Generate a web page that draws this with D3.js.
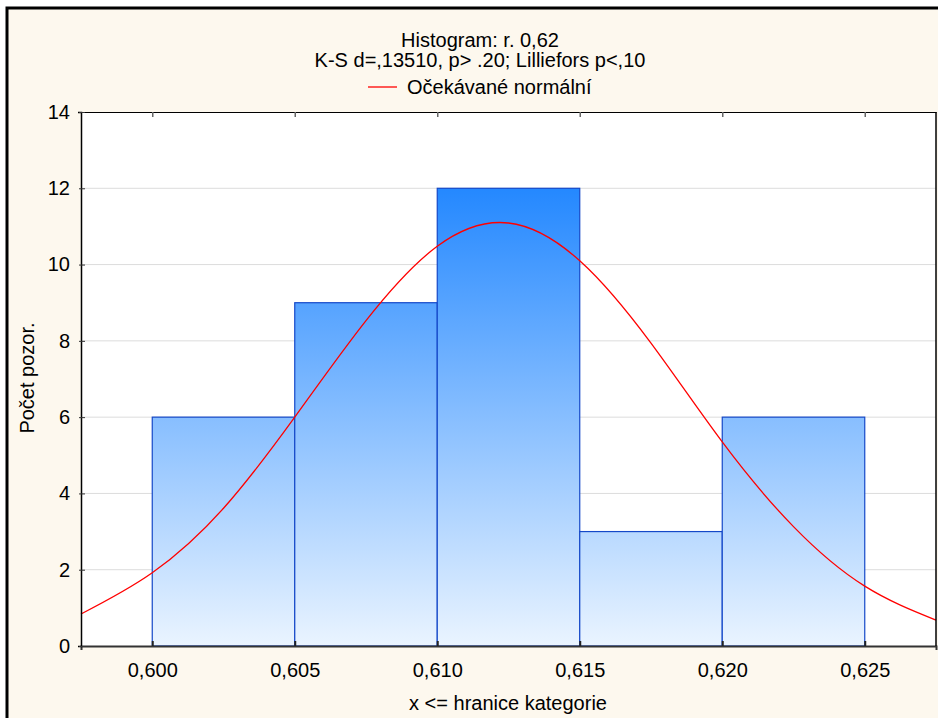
<!DOCTYPE html>
<html>
<head>
<meta charset="utf-8">
<script src="https://cdn.jsdelivr.net/npm/d3@7"></script>
<style>
  body { margin: 0; background: #fff; }
  svg { display: block; font-family: Arial, 'Liberation Sans', sans-serif; }
</style>
</head>
<body>
<svg width="938" height="718"></svg>
<script>
  'use strict'

  // bin upper bounds and counts
  const binEdges = [0.600, 0.605, 0.610, 0.615, 0.620, 0.625]
  const counts = [6, 9, 12, 3, 6]

  // expected normal curve
  const curveX = [0.5975, 0.6000, 0.6025, 0.6050, 0.6075, 0.6100, 0.6125, 0.6150, 0.6175, 0.6200, 0.6225, 0.6250, 0.6275]
  const curveY = [0.84, 1.92, 3.61, 6.00, 8.53, 10.48, 11.09, 10.10, 7.94, 5.35, 3.13, 1.57, 0.68]

  const xTicks = [0.600, 0.605, 0.610, 0.615, 0.620, 0.625]
  const yTicks = [0, 2, 4, 6, 8, 10, 12, 14]

  const titleLines = ['Histogram: r. 0,62', 'K-S d=,13510, p> .20; Lilliefors p<,10']
  const legendLabel = 'Očekávané normální'
  const xLabel = 'x <= hranice kategorie'
  const yLabel = 'Počet pozor.'

  const fs = 20

  const svg = d3.select('svg')
  const margin = { left: 81, top: 112, right: 2, bottom: 72 }
  const width = 938 - margin.left - margin.right
  const height = 718 - margin.top - margin.bottom

  // frame
  svg.append('rect').
    attr('x', 7).attr('y', 8).attr('width', 940).attr('height', 720).
    attr('fill', '#fdf8ee').attr('stroke', '#000').attr('stroke-width', 3)

  const x = d3.scaleLinear().domain([0.5975, 0.6275]).range([0, width])
  const y = d3.scaleLinear().domain([0, 14]).range([height, 0])

  const g = svg.append('g').attr('transform', `translate(${margin.left},${margin.top})`)

  g.append('rect').attr('width', width).attr('height', height).attr('fill', '#fff')

  const grad = svg.append('defs').append('linearGradient').
    attr('id', 'barGrad').
    attr('gradientUnits', 'userSpaceOnUse').
    attr('x1', 0).attr('x2', 0).
    attr('y1', y(0)).attr('y2', y(12))
  grad.append('stop').attr('offset', 0).attr('stop-color', '#eaf4ff')
  grad.append('stop').attr('offset', 1).attr('stop-color', '#2488ff')

  // grid
  g.selectAll('line.grid').
    data(yTicks.filter(d => d > 0 && d < 14)).
    enter().append('line').
    attr('x1', 0).attr('x2', width).
    attr('y1', d => y(d)).attr('y2', d => y(d)).
    attr('stroke', '#dcdcdc').attr('stroke-width', 1)

  // bars
  g.selectAll('rect.bar').
    data(counts).
    enter().append('rect').
    attr('x', (d, i) => x(binEdges[i])).
    attr('width', (d, i) => x(binEdges[i + 1]) - x(binEdges[i])).
    attr('y', d => y(d)).
    attr('height', d => y(0) - y(d)).
    attr('fill', 'url(#barGrad)').
    attr('stroke', '#1448c8').attr('stroke-width', 1.2)

  // normal curve
  const line = d3.line().
    x(d => x(d[0])).
    y(d => y(d[1])).
    curve(d3.curveNatural)

  g.append('path').
    datum(curveX.map((v, i) => [v, curveY[i]])).
    attr('d', line).
    attr('fill', 'none').
    attr('stroke', '#ff0000').attr('stroke-width', 1.3)

  // axes
  g.append('g').
    attr('transform', `translate(0,${height})`).
    call(d3.axisBottom(x).tickValues(xTicks).tickSize(4).tickPadding(13).tickFormat(d => d3.format('.3f')(d).replace('.', ','))).
    call(a => a.select('.domain').attr('stroke', '#333').attr('stroke-width', 2)).
    call(a => a.selectAll('.tick line').attr('y2', -5).attr('stroke', '#222').attr('stroke-width', 2))

  g.append('g').
    call(d3.axisTop(x).tickValues(xTicks).tickSize(0).tickFormat('')).
    call(a => a.select('.domain').attr('stroke', '#000')).
    call(a => a.selectAll('.tick line').attr('y2', 5).attr('stroke', '#666').attr('stroke-width', 1.5))

  g.append('g').
    call(d3.axisLeft(y).tickValues(yTicks).tickSize(3).tickPadding(8).tickFormat(d3.format('d'))).
    call(a => a.select('.domain').attr('stroke', '#000').attr('stroke-width', 1.5)).
    call(a => a.selectAll('.tick line').attr('x2', 4).attr('x1', -2).attr('stroke', '#333'))

  g.append('line').
    attr('x1', width).attr('x2', width).attr('y1', 0).attr('y2', height).
    attr('stroke', '#000').attr('stroke-width', 1.5)

  svg.selectAll('.tick text').attr('font-size', fs).attr('fill', '#000').
    attr('font-family', 'Arial, Liberation Sans, sans-serif')

  // titles
  svg.selectAll('text.title').
    data(titleLines).
    enter().append('text').
    attr('x', 480).attr('y', (d, i) => 47 + i * 20).
    attr('text-anchor', 'middle').attr('font-size', fs).
    text(d => d)

  svg.append('line').
    attr('x1', 368).attr('x2', 397).attr('y1', 87).attr('y2', 87).
    attr('stroke', '#ff0000').attr('stroke-width', 1.3)
  svg.append('text').
    attr('x', 407).attr('y', 94).attr('font-size', fs).
    text(legendLabel)

  svg.append('text').
    attr('x', 508).attr('y', 710).attr('text-anchor', 'middle').attr('font-size', fs).
    text(xLabel)

  svg.append('text').
    attr('transform', 'translate(34,378) rotate(-90)').
    attr('text-anchor', 'middle').attr('font-size', fs).
    text(yLabel)
</script>
</body>
</html>
